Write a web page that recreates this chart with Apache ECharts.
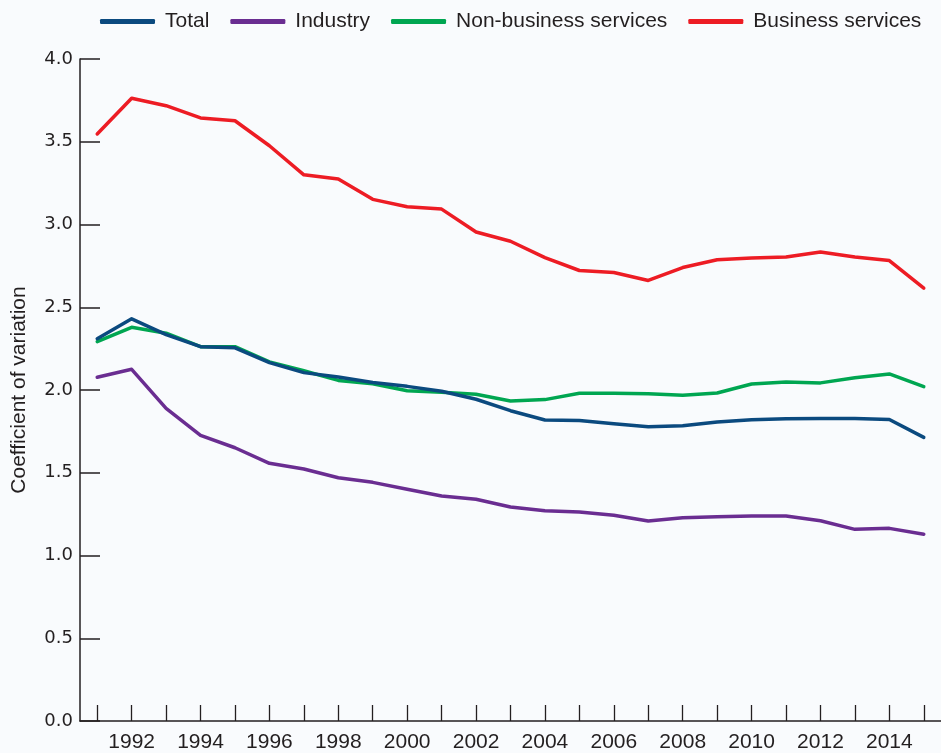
<!DOCTYPE html>
<html>
<head>
<meta charset="utf-8">
<script src="https://cdn.jsdelivr.net/npm/echarts@6/dist/echarts.min.js"></script>
<style>
html,body{margin:0;padding:0;background:#f9fbfd;}
#c{width:941px;height:753px;}
</style>
</head>
<body>
<div id="c"></div>
<script>
const years = ['1991','1992','1993','1994','1995','1996','1997','1998','1999','2000','2001','2002','2003','2004','2005','2006','2007','2008','2009','2010','2011','2012','2013','2014','2015'];
const total = [2.31,2.43,2.335,2.262,2.255,2.165,2.105,2.078,2.045,2.022,1.992,1.944,1.875,1.819,1.815,1.796,1.778,1.784,1.807,1.82,1.827,1.828,1.828,1.822,1.714];
const industry = [2.077,2.125,1.889,1.726,1.651,1.557,1.523,1.47,1.442,1.40,1.36,1.34,1.293,1.271,1.263,1.243,1.208,1.228,1.234,1.239,1.239,1.21,1.158,1.164,1.128];
const nonBusiness = [2.292,2.379,2.343,2.262,2.262,2.17,2.116,2.058,2.038,1.996,1.987,1.974,1.934,1.942,1.98,1.98,1.977,1.968,1.982,2.036,2.048,2.043,2.074,2.097,2.02];
const business = [3.547,3.763,3.718,3.644,3.627,3.476,3.30,3.275,3.152,3.107,3.093,2.955,2.899,2.80,2.722,2.71,2.662,2.74,2.787,2.797,2.803,2.834,2.803,2.782,2.615];
const yTicks = {min:0, max:4, interval:0.5};

const txt = '#231f20';
const font = "'Liberation Sans', Arial, sans-serif";
const chart = echarts.init(document.getElementById('c'), null, {renderer:'canvas'});
function line(name, data, color, z){
  return {name, type:'line', data, symbol:'none', z:z||2,
    lineStyle:{color, width:3.5, join:'round', cap:'round'}, itemStyle:{color}};
}
chart.setOption({
  backgroundColor:'#f9fbfd',
  animation:false,
  legend:{
    left:95, top:6, itemWidth:55, itemHeight:5, itemGap:21, icon:'roundRect',
    textStyle:{color:txt, fontSize:21, fontFamily:font, padding:[0,0,0,5]},
    data:['Total','Industry','Non-business services','Business services']
  },
  grid:{left:80, right:0, top:59, bottom:32, containLabel:false},
  xAxis:{
    type:'category', data:years, boundaryGap:true,
    axisLine:{lineStyle:{color:txt, width:1.5}},
    axisTick:{show:true, inside:true, length:16, alignWithLabel:true, interval:0, lineStyle:{color:txt, width:1.3}},
    axisLabel:{color:txt, fontSize:21, fontFamily:font, margin:11, interval:0,
      formatter:function(v){ return parseInt(v) % 2 === 0 ? v : ''; }},
    splitLine:{show:false}
  },
  yAxis:{
    type:'value', min:yTicks.min, max:yTicks.max, interval:yTicks.interval,
    name:'Coefficient of variation', nameLocation:'middle', nameGap:50,
    nameTextStyle:{color:txt, fontSize:21, fontFamily:font},
    axisLine:{show:true, lineStyle:{color:txt, width:1.5}},
    axisTick:{show:true, inside:true, length:20, lineStyle:{color:txt, width:1.5}},
    axisLabel:{color:txt, fontSize:18, fontFamily:"'DejaVu Sans', sans-serif", margin:7,
      formatter:function(v){ return v.toFixed(1); }},
    splitLine:{show:false}
  },
  series:[
    line('Total', total, '#0b4a7f', 4),
    line('Industry', industry, '#6a2d91', 2),
    line('Non-business services', nonBusiness, '#00a651', 3),
    line('Business services', business, '#ed1c24', 2)
  ]
});
</script>
</body>
</html>
